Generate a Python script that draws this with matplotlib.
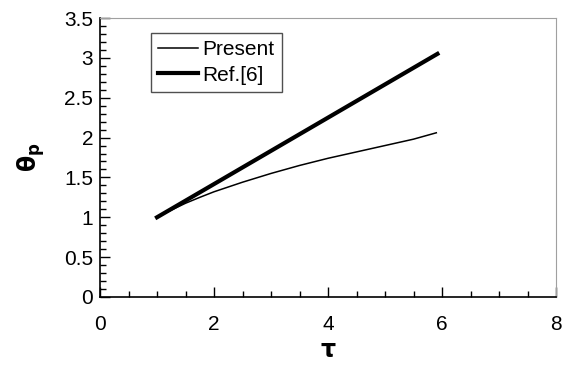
import numpy as np
import matplotlib
matplotlib.use("Agg")
import matplotlib.pyplot as plt
from matplotlib.ticker import MultipleLocator

plt.rcParams['font.family'] = ['Liberation Sans', 'DejaVu Sans']

tau_present = [1.0, 1.25, 1.5, 1.75, 2.0, 2.5, 3.0, 3.5, 4.0, 4.5, 5.0, 5.5, 5.9]
theta_present = [1.0, 1.09, 1.176, 1.25, 1.32, 1.44, 1.55, 1.65, 1.74, 1.82, 1.90, 1.98, 2.06]
tau_ref = [1.0, 5.92]
theta_ref = [1.0, 3.05]
ytick_labels = ['0', '0.5', '1', '1.5', '2', '2.5', '3', '3.5']

fig = plt.figure(figsize=(5.69, 3.70), dpi=100)
ax = fig.add_axes([100/569, (370-297)/370, 456/569, 279/370])

ax.plot(tau_present, theta_present, color='black', lw=1.1, label='Present')
ax.plot(tau_ref, theta_ref, color='black', lw=3.0, label='Ref.[6]')

ax.set_xlim(0, 8)
ax.set_ylim(0, 3.5)
ax.xaxis.set_major_locator(MultipleLocator(2))
ax.xaxis.set_minor_locator(MultipleLocator(0.5))
ax.set_yticks(np.arange(0, 3.51, 0.5))
ax.set_yticklabels(ytick_labels)
ax.yaxis.set_minor_locator(MultipleLocator(0.1))

ax.tick_params(which='both', direction='in', top=False, right=False, labelsize=15, color='black')
ax.tick_params(which='major', length=7, width=1)
ax.tick_params(which='minor', length=4, width=1)
ax.tick_params(axis='x', pad=13)
ax.tick_params(axis='y', pad=5)

for s in ['top', 'right']:
    ax.spines[s].set_color('#a0a0a0')
for s in ['left', 'bottom']:
    ax.spines[s].set_color('black')
    ax.spines[s].set_linewidth(1.2)

ax.set_xlabel(r'$\mathbf{\tau}$', fontsize=17, labelpad=4)
ax.set_ylabel(r'$\mathbf{\theta_p}$', fontsize=17, labelpad=12)

leg = ax.legend(loc='upper left', bbox_to_anchor=(0.112, 0.946), fontsize=15,
                fancybox=False, edgecolor='#505050', framealpha=1,
                handlelength=1.9, handletextpad=0.2, borderpad=0.35,
                labelspacing=0.3, borderaxespad=0)
leg.get_frame().set_linewidth(1.0)

fig.savefig('out.png', dpi=100)
